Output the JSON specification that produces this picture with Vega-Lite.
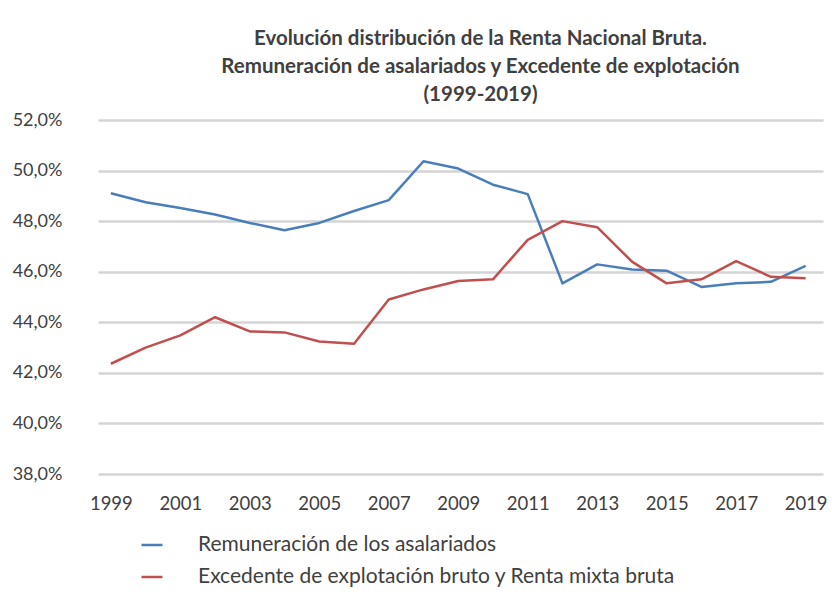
{
  "$schema": "https://vega.github.io/schema/vega-lite/v6.json",
  "width": 725,
  "height": 354,
  "autosize": {"type": "none"},
  "padding": {"left": 98, "top": 120, "right": 9, "bottom": 118},
  "background": "white",
  "title": {
    "text": ["Evolución distribución de la Renta Nacional Bruta.", "Remuneración de asalariados y Excedente de explotación", "(1999-2019)"],
    "font": "Lato",
    "fontSize": 20.5,
    "fontWeight": "bold",
    "color": "#404040",
    "anchor": "middle",
    "frame": "group",
    "dx": 20,
    "offset": 6,
    "lineHeight": 28
  },
  "data": {
    "values": [
      {"year": 1999, "serie": "Remuneración de los asalariados", "value": 49.1},
      {"year": 2000, "serie": "Remuneración de los asalariados", "value": 48.75},
      {"year": 2001, "serie": "Remuneración de los asalariados", "value": 48.52},
      {"year": 2002, "serie": "Remuneración de los asalariados", "value": 48.26},
      {"year": 2003, "serie": "Remuneración de los asalariados", "value": 47.93},
      {"year": 2004, "serie": "Remuneración de los asalariados", "value": 47.64},
      {"year": 2005, "serie": "Remuneración de los asalariados", "value": 47.93},
      {"year": 2006, "serie": "Remuneración de los asalariados", "value": 48.4},
      {"year": 2007, "serie": "Remuneración de los asalariados", "value": 48.83},
      {"year": 2008, "serie": "Remuneración de los asalariados", "value": 50.37},
      {"year": 2009, "serie": "Remuneración de los asalariados", "value": 50.08},
      {"year": 2010, "serie": "Remuneración de los asalariados", "value": 49.44},
      {"year": 2011, "serie": "Remuneración de los asalariados", "value": 49.07},
      {"year": 2012, "serie": "Remuneración de los asalariados", "value": 45.54},
      {"year": 2013, "serie": "Remuneración de los asalariados", "value": 46.29},
      {"year": 2014, "serie": "Remuneración de los asalariados", "value": 46.09},
      {"year": 2015, "serie": "Remuneración de los asalariados", "value": 46.04},
      {"year": 2016, "serie": "Remuneración de los asalariados", "value": 45.4},
      {"year": 2017, "serie": "Remuneración de los asalariados", "value": 45.54},
      {"year": 2018, "serie": "Remuneración de los asalariados", "value": 45.6},
      {"year": 2019, "serie": "Remuneración de los asalariados", "value": 46.23},
      {"year": 1999, "serie": "Excedente de explotación bruto y Renta mixta bruta", "value": 42.36},
      {"year": 2000, "serie": "Excedente de explotación bruto y Renta mixta bruta", "value": 43.0},
      {"year": 2001, "serie": "Excedente de explotación bruto y Renta mixta bruta", "value": 43.48},
      {"year": 2002, "serie": "Excedente de explotación bruto y Renta mixta bruta", "value": 44.2},
      {"year": 2003, "serie": "Excedente de explotación bruto y Renta mixta bruta", "value": 43.64},
      {"year": 2004, "serie": "Excedente de explotación bruto y Renta mixta bruta", "value": 43.6},
      {"year": 2005, "serie": "Excedente de explotación bruto y Renta mixta bruta", "value": 43.24},
      {"year": 2006, "serie": "Excedente de explotación bruto y Renta mixta bruta", "value": 43.15},
      {"year": 2007, "serie": "Excedente de explotación bruto y Renta mixta bruta", "value": 44.9},
      {"year": 2008, "serie": "Excedente de explotación bruto y Renta mixta bruta", "value": 45.3},
      {"year": 2009, "serie": "Excedente de explotación bruto y Renta mixta bruta", "value": 45.63},
      {"year": 2010, "serie": "Excedente de explotación bruto y Renta mixta bruta", "value": 45.7},
      {"year": 2011, "serie": "Excedente de explotación bruto y Renta mixta bruta", "value": 47.26},
      {"year": 2012, "serie": "Excedente de explotación bruto y Renta mixta bruta", "value": 48.0},
      {"year": 2013, "serie": "Excedente de explotación bruto y Renta mixta bruta", "value": 47.76},
      {"year": 2014, "serie": "Excedente de explotación bruto y Renta mixta bruta", "value": 46.4},
      {"year": 2015, "serie": "Excedente de explotación bruto y Renta mixta bruta", "value": 45.54},
      {"year": 2016, "serie": "Excedente de explotación bruto y Renta mixta bruta", "value": 45.7},
      {"year": 2017, "serie": "Excedente de explotación bruto y Renta mixta bruta", "value": 46.42},
      {"year": 2018, "serie": "Excedente de explotación bruto y Renta mixta bruta", "value": 45.8},
      {"year": 2019, "serie": "Excedente de explotación bruto y Renta mixta bruta", "value": 45.74}
    ]
  },
  "mark": {"type": "line", "strokeWidth": 2.5, "strokeJoin": "round"},
  "encoding": {
    "x": {
      "field": "year",
      "type": "quantitative",
      "scale": {"domain": [1998.63, 2019.5], "nice": false, "zero": false},
      "axis": {
        "title": null,
        "values": [1999, 2001, 2003, 2005, 2007, 2009, 2011, 2013, 2015, 2017, 2019],
        "format": "d",
        "domain": false,
        "ticks": false,
        "grid": false,
        "labelFont": "Lato",
        "labelFontSize": 18.5,
        "labelColor": "#404040",
        "labelPadding": 20,
        "labelFlush": false
      }
    },
    "y": {
      "field": "value",
      "type": "quantitative",
      "scale": {"domain": [38, 52], "nice": false, "zero": false},
      "axis": {
        "title": null,
        "values": [38, 40, 42, 44, 46, 48, 50, 52],
        "labelExpr": "replace(format(datum.value, '.1f'), '.', ',') + '%'",
        "domain": false,
        "ticks": false,
        "grid": true,
        "gridColor": "#d4d4d4",
        "gridWidth": 2.5,
        "labelFont": "Lato",
        "labelFontSize": 18,
        "labelColor": "#404040",
        "labelPadding": 36
      }
    },
    "color": {
      "field": "serie",
      "type": "nominal",
      "scale": {
        "domain": ["Remuneración de los asalariados", "Excedente de explotación bruto y Renta mixta bruta"],
        "range": ["#4a7ebb", "#c0504d"]
      },
      "legend": {
        "title": null,
        "orient": "none",
        "legendX": 42,
        "legendY": 413,
        "direction": "vertical",
        "symbolType": "stroke",
        "symbolSize": 440,
        "symbolStrokeWidth": 2.5,
        "labelFont": "Lato",
        "labelFontSize": 21,
        "labelColor": "#404040",
        "labelOffset": 34,
        "rowPadding": 10,
        "labelLimit": 650
      }
    }
  },
  "config": {"view": {"stroke": null}}
}
